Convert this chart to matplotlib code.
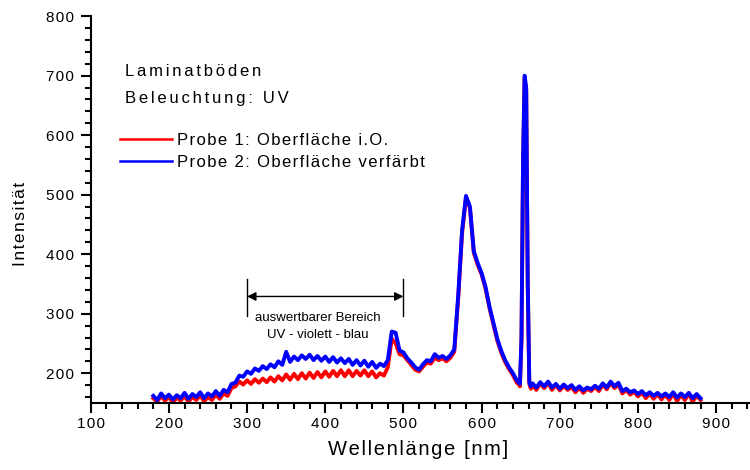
import numpy as np
import matplotlib
matplotlib.use('Agg')
import matplotlib.pyplot as plt
from matplotlib.ticker import MultipleLocator, FuncFormatter
from matplotlib.lines import Line2D

plt.rcParams['font.family'] = ['Liberation Sans', 'DejaVu Sans']

# --- wavelength grid (nm): 5 nm steps, finer around the 656 nm line ---
wl = np.concatenate([np.arange(180, 646, 5),
                     np.arange(647, 664, 2),
                     np.arange(665, 881, 5)])

# --- Probe 2 (blue) ---
probe2_a = [162, 155, 166, 158, 164, 156, 163, 158, 167, 157,
            165, 160, 168, 158, 166, 161, 170, 162, 172, 168,
            182, 184, 196, 194, 203, 199, 208, 204, 212, 207,
            215, 210, 220, 214, 236, 219, 228, 222, 230, 224,
            231, 222, 229, 221, 228, 219, 227, 218, 225, 217,
            224, 214, 222, 213, 221, 211, 219, 209, 216, 212,
            222, 270, 268, 238, 235, 225, 218, 210, 206, 215,
            222, 220, 232, 226, 229, 224, 230, 240, 330, 440,
            498, 480, 405, 385, 368, 345, 312, 285, 258, 238,
            222, 210, 200, 188]
probe2_peak = [185, 182, 260, 560, 700, 680, 350, 185, 178]
probe2_b = [183, 176, 185, 178, 186, 176, 182, 174, 181, 175,
            180, 172, 178, 171, 176, 173, 179, 174, 183, 176,
            186, 178, 184, 170, 174, 168, 171, 165, 170, 163,
            168, 162, 167, 161, 166, 160, 168, 159, 166, 160,
            167, 158, 165, 158]

# --- Probe 1 (red) ---
probe1_a = [158, 152, 162, 154, 160, 151, 159, 154, 162, 152,
            160, 155, 163, 153, 160, 155, 164, 157, 166, 162,
            175, 178, 186, 181, 188, 182, 190, 184, 191, 185,
            193, 186, 195, 188, 198, 189, 199, 190, 200, 191,
            201, 192, 202, 193, 203, 194, 204, 195, 205, 195,
            205, 195, 204, 196, 205, 195, 203, 193, 200, 196,
            210, 258, 250, 232, 230, 222, 214, 206, 203, 211,
            218, 216, 226, 222, 225, 220, 226, 236, 325, 435,
            495, 478, 402, 382, 366, 342, 310, 282, 255, 235,
            219, 207, 197, 184]
probe1_peak = [182, 178, 255, 555, 695, 675, 345, 182, 174]
probe1_b = [180, 172, 183, 175, 184, 172, 180, 171, 179, 172,
            177, 168, 176, 167, 174, 170, 177, 170, 181, 173,
            184, 175, 181, 166, 172, 164, 169, 161, 168, 158,
            166, 157, 165, 156, 164, 155, 166, 153, 164, 155,
            166, 152, 163, 155]

probe1 = np.array(probe1_a + probe1_peak + probe1_b)
probe2 = np.array(probe2_a + probe2_peak + probe2_b)

labels = ['Probe 1: Oberfläche i.O.', 'Probe 2: Oberfläche verfärbt']
colors = ['#ff0000', '#0000ff']
HS = '\u200a'  # hair space, used to widen the letter spacing like the original


def spaced(s, n=1):
    return (HS * n).join(s)


fig = plt.figure(figsize=(7.5, 4.7), dpi=100)
ax = fig.add_axes([0.121, 0.1426, 0.8787, 0.823])

ax.plot(wl, probe1, color=colors[0], lw=2.8)
ax.plot(wl, probe2, color=colors[1], lw=2.8)

ax.set_xlim(100, 943)
ax.set_ylim(150, 800)
ax.xaxis.set_major_locator(MultipleLocator(100))
ax.xaxis.set_minor_locator(MultipleLocator(20))
ax.yaxis.set_major_locator(MultipleLocator(100))
ax.yaxis.set_minor_locator(MultipleLocator(20))
fmt = FuncFormatter(lambda v, pos: spaced(f'{v:.0f}'))
ax.xaxis.set_major_formatter(fmt)
ax.yaxis.set_major_formatter(fmt)
ax.spines['top'].set_visible(False)
ax.spines['right'].set_visible(False)
for s in ['left', 'bottom']:
    ax.spines[s].set_linewidth(1.5)
ax.tick_params(which='major', direction='out', length=7, width=1.5,
               labelsize=11, pad=3)
ax.tick_params(which='minor', direction='out', length=4, width=1.5)
ax.tick_params(axis='y', which='major', pad=5)

# axis titles, placed where the original has them
ax.set_xlabel(spaced('Wellenlänge [nm]'), fontsize=14.5, ha='left')
ax.xaxis.set_label_coords((328 - 90.7) / 659, -0.095)
ax.set_ylabel(spaced('Intensität'), fontsize=12.5)
ax.yaxis.set_label_coords(-0.095, (403 - 224) / 387)

# header text
fig.text(125 / 750, 1 - 72 / 470, spaced('Laminatböden', 2), fontsize=12, va='center')
fig.text(125 / 750, 1 - 98 / 470, spaced('Beleuchtung: UV', 2), fontsize=12, va='center')

# legend
handles = [Line2D([], [], color=c, lw=1.8) for c in colors]
ax.legend(handles, [spaced(l) for l in labels], loc='upper left', frameon=False,
          fontsize=12, bbox_to_anchor=(120 / 750, 1 - 133 / 470),
          bbox_transform=fig.transFigure, borderpad=0, borderaxespad=0,
          handlelength=3.1, handletextpad=0.3, labelspacing=0.42)

# evaluable range marker
for x0 in (300, 500):
    ax.plot([x0, x0], [296, 358], color='black', lw=1)
ax.annotate('', xy=(300, 329), xytext=(500, 329),
            arrowprops=dict(arrowstyle='<|-|>', color='black', lw=1,
                            mutation_scale=13, shrinkA=0, shrinkB=0))
ax.text(390, 292, 'auswertbarer Bereich', fontsize=9.5, ha='center', va='center')
ax.text(390, 265, 'UV - violett - blau', fontsize=9.5, ha='center', va='center')

fig.savefig('out.png', dpi=100)
